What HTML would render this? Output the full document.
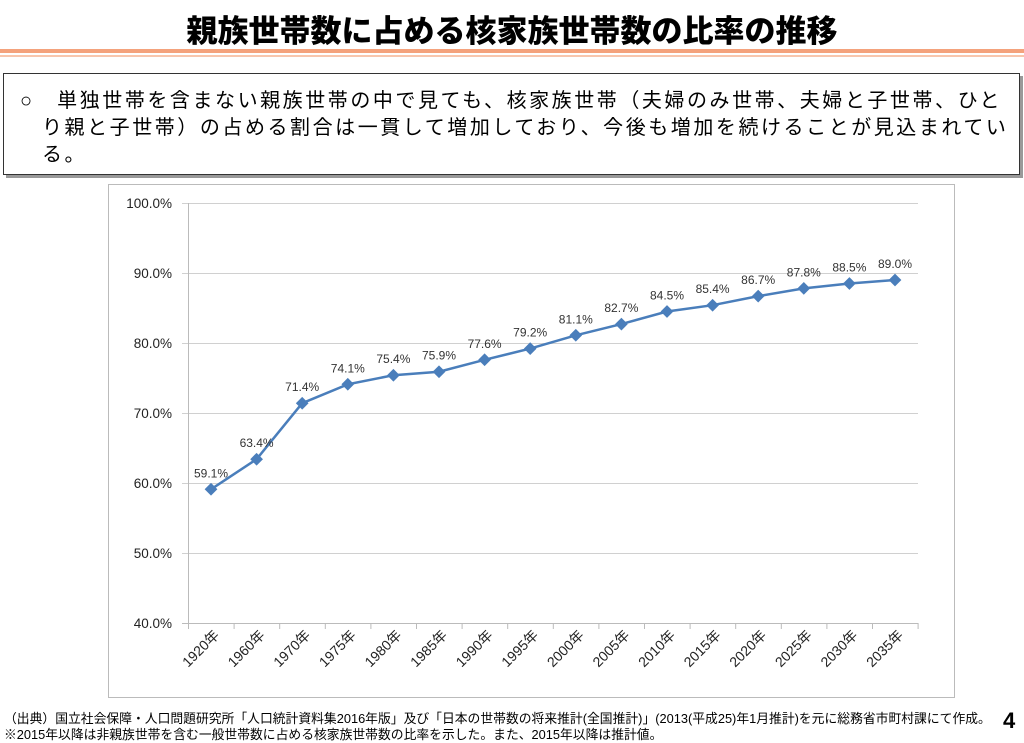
<!DOCTYPE html>
<html><head><meta charset="utf-8"><style>
body{margin:0;width:1024px;height:743px;background:#fff;position:relative;overflow:hidden;font-family:"Liberation Sans","Noto Sans CJK JP",sans-serif}
.t{position:absolute;left:0;width:1024px;top:6px;text-align:center;font-size:31px;font-weight:900;color:#000}
.l1{position:absolute;left:0;top:49px;width:1024px;height:4px;background:#f4a27c}
.l2{position:absolute;left:0;top:55px;width:1024px;height:2px;background:#f8c6ad}
.box{position:absolute;left:3px;top:73px;width:1015px;height:100px;border:1.5px solid #333;box-shadow:3px 3px 0 #999;background:#fff}
.box div{position:absolute;font-size:20px;line-height:27px;color:#000;white-space:nowrap;letter-spacing:2.55px}
.fn{position:absolute;left:4px;font-size:12.8px;color:#000;white-space:nowrap}
</style></head><body>
<div class="t">親族世帯数に占める核家族世帯数の比率の推移</div>
<div class="l1"></div><div class="l2"></div>
<div class="box">
<div style="left:16px;top:14px">○　単独世帯を含まない親族世帯の中で見ても、核家族世帯（夫婦のみ世帯、夫婦と子世帯、ひと</div>
<div style="left:38px;top:41px">り親と子世帯）の占める割合は一貫して増加しており、今後も増加を続けることが見込まれてい</div>
<div style="left:38px;top:68px">る。</div>
</div>
<svg style="position:absolute;left:0;top:0" width="1024" height="743" font-family="Liberation Sans, Noto Sans CJK JP, sans-serif">
<rect x="108.5" y="184.5" width="846" height="513" fill="#fff" stroke="#bbb"/>
<g stroke="#d0d0d0" stroke-width="1">
<line x1="182" x2="918" y1="203.5" y2="203.5"/><line x1="182" x2="918" y1="273.5" y2="273.5"/><line x1="182" x2="918" y1="343.5" y2="343.5"/><line x1="182" x2="918" y1="413.5" y2="413.5"/><line x1="182" x2="918" y1="483.5" y2="483.5"/><line x1="182" x2="918" y1="553.5" y2="553.5"/>
</g>
<g stroke="#bbb"><line x1="188.5" x2="188.5" y1="203" y2="623"/><line x1="182" x2="918" y1="623.5" y2="623.5"/></g>
<g id="tk" stroke="#bbb"></g>
<g font-size="13.5" fill="#222" text-anchor="end">
<text x="172" y="208">100.0%</text><text x="172" y="278">90.0%</text><text x="172" y="348">80.0%</text><text x="172" y="418">70.0%</text><text x="172" y="488">60.0%</text><text x="172" y="558">50.0%</text><text x="172" y="628">40.0%</text>
</g>
<g id="g"></g>
</svg>
<div class="fn" style="top:708px">（出典）国立社会保障・人口問題研究所「人口統計資料集2016年版」及び「日本の世帯数の将来推計(全国推計)」(2013(平成25)年1月推計)を元に総務省市町村課にて作成。</div>
<div class="fn" style="top:724px">※2015年以降は非親族世帯を含む一般世帯数に占める核家族世帯数の比率を示した。また、2015年以降は推計値。</div>
<div style="position:absolute;left:1003px;top:708px;font-size:22px;font-weight:bold">4</div>
<script>
var v=[59.1,63.4,71.4,74.1,75.4,75.9,77.6,79.2,81.1,82.7,84.5,85.4,86.7,87.8,88.5,89.0];
var yr=["1920","1960","1970","1975","1980","1985","1990","1995","2000","2005","2010","2015","2020","2025","2030","2035"];
var s="",p=[],tk="";
for(var i=0;i<16;i++){var x=211+i*45.6,y=623-(v[i]-40)*7;p.push(x+","+y);
s+='<rect x="'+(x-4.5)+'" y="'+(y-4.5)+'" width="9" height="9" fill="#4a7ebb" transform="rotate(45 '+x+' '+y+')"/>';
s+='<text x="'+x+'" y="'+(y-12)+'" font-size="12" fill="#333" text-anchor="middle">'+v[i].toFixed(1)+'%</text>';
s+='<text transform="translate('+(x+9)+',636) rotate(-45)" font-size="14" fill="#222" text-anchor="end">'+yr[i]+'年</text>';}
for(var j=0;j<=16;j++){var tx=188.5+j*45.6;tk+='<line x1="'+tx+'" x2="'+tx+'" y1="623" y2="629"/>';}
document.getElementById("tk").innerHTML=tk;
document.getElementById("g").innerHTML='<polyline points="'+p.join(" ")+'" fill="none" stroke="#4a7ebb" stroke-width="2.5"/>'+s;
</script>
</body></html>
